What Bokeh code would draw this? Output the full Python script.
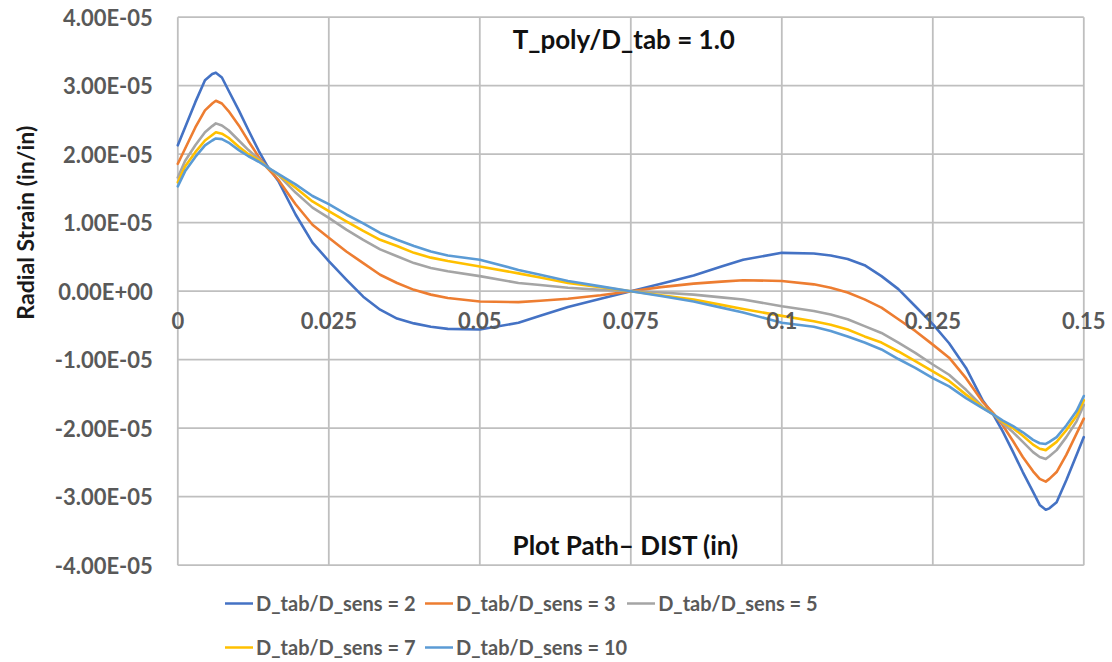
import math
from bokeh.plotting import figure
from bokeh.models import (Range1d, Label, LabelSet, ColumnDataSource, Legend, LegendItem)
from bokeh.core.properties import value
from bokeh.embed import file_html
from bokeh.resources import INLINE

# ---------------- data ----------------
dist = [0, 0.0012, 0.0029, 0.0045, 0.0057, 0.0063, 0.0073, 0.0084, 0.0101, 0.0117, 0.0134,
        0.0148, 0.0167, 0.0195, 0.0223, 0.025, 0.0279, 0.0307, 0.0335, 0.0363, 0.0391,
        0.0419, 0.0447, 0.05, 0.0564, 0.06, 0.0646, 0.07, 0.075,
        0.08, 0.0854, 0.09, 0.0936, 0.1, 0.1053, 0.1081, 0.1109, 0.1137, 0.1165, 0.1193,
        0.1221, 0.125, 0.1277, 0.1305, 0.1333, 0.1352, 0.1366, 0.1383, 0.1399, 0.1416,
        0.1427, 0.1437, 0.1443, 0.1455, 0.1471, 0.1488, 0.15]

strain_2 = [2.13e-5, 2.39e-5, 2.76e-5, 3.08e-5, 3.17e-5, 3.19e-5, 3.12e-5, 2.93e-5, 2.64e-5,
            2.35e-5, 2.05e-5, 1.83e-5, 1.60e-5, 1.12e-5, 0.71e-5, 0.44e-5, 0.17e-5, -0.08e-5,
            -0.27e-5, -0.40e-5, -0.47e-5, -0.52e-5, -0.55e-5, -0.56e-5, -0.46e-5, -0.36e-5,
            -0.23e-5, -0.11e-5, 0.0,
            0.11e-5, 0.23e-5, 0.36e-5, 0.46e-5, 0.56e-5, 0.55e-5, 0.52e-5, 0.47e-5, 0.38e-5,
            0.22e-5, 0.03e-5, -0.22e-5, -0.48e-5, -0.76e-5, -1.12e-5, -1.60e-5, -1.83e-5,
            -2.05e-5, -2.35e-5, -2.64e-5, -2.93e-5, -3.12e-5, -3.19e-5, -3.17e-5, -3.08e-5,
            -2.76e-5, -2.39e-5, -2.13e-5]

strain_3 = [1.86e-5, 2.08e-5, 2.39e-5, 2.64e-5, 2.74e-5, 2.78e-5, 2.74e-5, 2.63e-5, 2.42e-5,
            2.19e-5, 1.96e-5, 1.80e-5, 1.62e-5, 1.27e-5, 0.97e-5, 0.78e-5, 0.58e-5, 0.41e-5,
            0.24e-5, 0.12e-5, 0.02e-5, -0.05e-5, -0.10e-5, -0.15e-5, -0.16e-5, -0.14e-5,
            -0.11e-5, -0.06e-5, 0.0,
            0.06e-5, 0.11e-5, 0.14e-5, 0.16e-5, 0.15e-5, 0.10e-5, 0.05e-5, -0.02e-5, -0.12e-5,
            -0.24e-5, -0.41e-5, -0.58e-5, -0.78e-5, -0.97e-5, -1.27e-5, -1.62e-5, -1.80e-5,
            -1.96e-5, -2.19e-5, -2.42e-5, -2.63e-5, -2.74e-5, -2.78e-5, -2.74e-5, -2.64e-5,
            -2.39e-5, -2.08e-5, -1.86e-5]

strain_5 = [1.66e-5, 1.90e-5, 2.13e-5, 2.32e-5, 2.41e-5, 2.45e-5, 2.42e-5, 2.35e-5, 2.20e-5,
            2.06e-5, 1.93e-5, 1.81e-5, 1.69e-5, 1.44e-5, 1.22e-5, 1.07e-5, 0.90e-5, 0.75e-5,
            0.61e-5, 0.51e-5, 0.41e-5, 0.34e-5, 0.29e-5, 0.22e-5, 0.12e-5, 0.09e-5, 0.05e-5,
            0.02e-5, 0.0,
            -0.02e-5, -0.05e-5, -0.09e-5, -0.12e-5, -0.22e-5, -0.29e-5, -0.34e-5, -0.41e-5,
            -0.51e-5, -0.61e-5, -0.75e-5, -0.90e-5, -1.07e-5, -1.22e-5, -1.44e-5, -1.69e-5,
            -1.81e-5, -1.93e-5, -2.06e-5, -2.20e-5, -2.35e-5, -2.42e-5, -2.45e-5, -2.41e-5,
            -2.32e-5, -2.13e-5, -1.90e-5, -1.66e-5]

strain_7 = [1.59e-5, 1.82e-5, 2.03e-5, 2.20e-5, 2.28e-5, 2.32e-5, 2.30e-5, 2.24e-5, 2.11e-5,
            2.00e-5, 1.91e-5, 1.81e-5, 1.70e-5, 1.51e-5, 1.31e-5, 1.17e-5, 1.02e-5, 0.88e-5,
            0.75e-5, 0.66e-5, 0.56e-5, 0.49e-5, 0.44e-5, 0.36e-5, 0.26e-5, 0.20e-5, 0.12e-5,
            0.06e-5, 0.0,
            -0.06e-5, -0.12e-5, -0.20e-5, -0.26e-5, -0.36e-5, -0.44e-5, -0.49e-5, -0.56e-5,
            -0.66e-5, -0.75e-5, -0.88e-5, -1.02e-5, -1.17e-5, -1.31e-5, -1.51e-5, -1.70e-5,
            -1.81e-5, -1.91e-5, -2.00e-5, -2.11e-5, -2.24e-5, -2.30e-5, -2.32e-5, -2.28e-5,
            -2.20e-5, -2.03e-5, -1.82e-5, -1.59e-5]

strain_10 = [1.53e-5, 1.75e-5, 1.96e-5, 2.13e-5, 2.20e-5, 2.23e-5, 2.22e-5, 2.17e-5, 2.06e-5,
             1.97e-5, 1.89e-5, 1.81e-5, 1.71e-5, 1.56e-5, 1.39e-5, 1.27e-5, 1.12e-5, 0.99e-5,
             0.85e-5, 0.75e-5, 0.66e-5, 0.58e-5, 0.52e-5, 0.46e-5, 0.31e-5, 0.24e-5, 0.15e-5,
             0.07e-5, 0.0,
             -0.07e-5, -0.15e-5, -0.24e-5, -0.31e-5, -0.46e-5, -0.52e-5, -0.58e-5, -0.66e-5,
             -0.75e-5, -0.85e-5, -0.99e-5, -1.12e-5, -1.27e-5, -1.39e-5, -1.56e-5, -1.71e-5,
             -1.81e-5, -1.89e-5, -1.97e-5, -2.06e-5, -2.17e-5, -2.22e-5, -2.23e-5, -2.20e-5,
             -2.13e-5, -1.96e-5, -1.75e-5, -1.53e-5]

series_names = ["D_tab/D_sens = 2", "D_tab/D_sens = 3", "D_tab/D_sens = 5",
                "D_tab/D_sens = 7", "D_tab/D_sens = 10"]
series_values = [strain_2, strain_3, strain_5, strain_7, strain_10]
series_colors = ["#4472C4", "#ED7D31", "#A5A5A5", "#FFC000", "#5B9BD5"]

x_ticks = [0, 0.025, 0.05, 0.075, 0.1, 0.125, 0.15]
x_tick_labels = ["0", "0.025", "0.05", "0.075", "0.1", "0.125", "0.15"]
y_ticks = [-4e-05, -3e-05, -2e-05, -1e-05, 0.0, 1e-05, 2e-05, 3e-05, 4e-05]
y_tick_labels = ["-4.00E-05", "-3.00E-05", "-2.00E-05", "-1.00E-05", "0.00E+00",
                 "1.00E-05", "2.00E-05", "3.00E-05", "4.00E-05"]

title_text = "T_poly/D_tab = 1.0"
x_title = "Plot Path\u2013 DIST (in)"
y_title = "Radial Strain (in/in)"

FONT = "Lato"
GRID = "#BFBFBF"
TICK_COLOR = "#595959"
TITLE_COLOR = "#111111"

# ---------------- figure ----------------
# The frame covers the whole canvas so that labels and legend are never clipped;
# the ranges place x=0..0.15 at px 177..1083 and y=+-4e-5 at px 17..565.
W, H = 1112, 662
X0_PX, X_PX_PER_UNIT = 177.3, 6040.0
Y0_PX, Y_PX_PER_UNIT = 290.7, 68.5e5
x_range = Range1d(-X0_PX / X_PX_PER_UNIT, (W - X0_PX) / X_PX_PER_UNIT)
y_range = Range1d(-(H - Y0_PX) / Y_PX_PER_UNIT, Y0_PX / Y_PX_PER_UNIT)

p = figure(width=W, height=H, output_backend="svg", toolbar_location=None,
           x_range=x_range, y_range=y_range,
           x_axis_location=None, y_axis_location=None,
           min_border=0, background_fill_color="white", border_fill_color="white",
           outline_line_color=None)
p.grid.grid_line_color = None

# grid lines limited to the plotting area
p.segment(x0=x_ticks, x1=x_ticks, y0=[y_ticks[0]] * len(x_ticks),
          y1=[y_ticks[-1]] * len(x_ticks), line_color=GRID, line_width=1.8)
p.segment(x0=[x_ticks[0]] * len(y_ticks), x1=[x_ticks[-1]] * len(y_ticks),
          y0=y_ticks, y1=y_ticks, line_color=GRID, line_width=1.8)

# ---------------- series ----------------
items = []
for name, vals, col in zip(series_names, series_values, series_colors):
    r = p.line(dist, vals, line_color=col, line_width=2.6, line_join="round", line_cap="round")
    items.append(LegendItem(label=name, renderers=[r]))

# x tick labels along the zero line
xt_src = ColumnDataSource(dict(x=x_ticks, y=[0.0] * len(x_ticks), text=x_tick_labels))
p.add_layout(LabelSet(x="x", y="y", text="text", source=xt_src,
                      text_align="center", text_baseline="top", y_offset=-21,
                      text_font=value(FONT), text_font_style="bold",
                      text_font_size="22px", text_color=TICK_COLOR))

# y tick labels left of the plotting area
yt_src = ColumnDataSource(dict(x=[x_ticks[0]] * len(y_ticks), y=y_ticks, text=y_tick_labels))
p.add_layout(LabelSet(x="x", y="y", text="text", source=yt_src,
                      text_align="right", text_baseline="middle", x_offset=-25,
                      text_font=value(FONT), text_font_style="bold",
                      text_font_size="22px", text_color=TICK_COLOR))

# y axis title
p.add_layout(Label(x=0, y=1.0e-05, x_offset=-153, angle=math.pi / 2, text=y_title,
                   text_align="center", text_baseline="middle",
                   text_font=FONT, text_font_style="bold", text_font_size="23px",
                   text_color="#1A1A1A"))

# titles inside the plot area
p.add_layout(Label(x=0.075, y=3.689e-05, x_offset=-7, text=title_text,
                   text_align="center", text_baseline="middle",
                   text_font=FONT, text_font_style="bold", text_font_size="26px",
                   text_color=TITLE_COLOR))
p.add_layout(Label(x=0.075, y=-3.712e-05, x_offset=-5, text=x_title,
                   text_align="center", text_baseline="middle",
                   text_font=FONT, text_font_style="bold", text_font_size="26px",
                   text_color=TITLE_COLOR))

# legend below the plotting area
legend = Legend(items=items, orientation="horizontal", ncols=3,
                location=(225, -7),
                label_text_font=FONT, label_text_font_style="bold",
                label_text_font_size="20px", label_text_color=TICK_COLOR,
                glyph_width=28, glyph_height=44, label_height=44, label_width=169,
                label_standoff=3, spacing=0, padding=0, margin=0,
                border_line_alpha=0, background_fill_alpha=0)
p.add_layout(legend)

open("out.html", "w").write(file_html(p, INLINE))
